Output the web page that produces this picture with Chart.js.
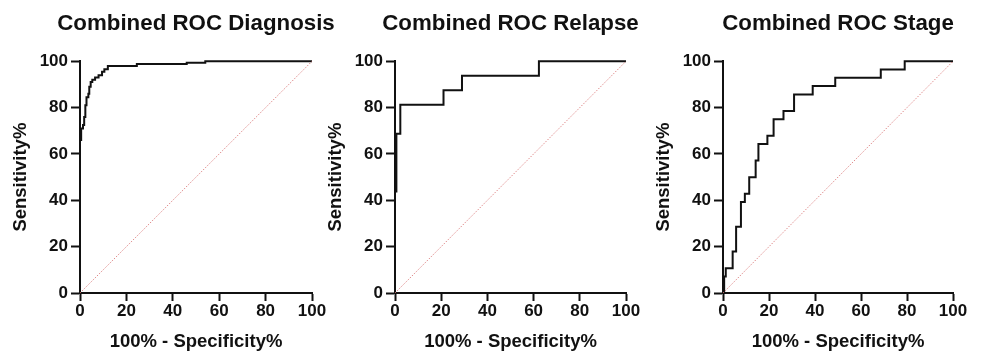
<!DOCTYPE html>
<html>
<head>
<meta charset="utf-8">
<script src="https://cdn.jsdelivr.net/npm/chart.js@4"></script>
<style>
  html, body { margin: 0; padding: 0; background: #fff; overflow: hidden; }
  #wrap { position: relative; width: 981px; height: 354px; overflow: hidden; }
  canvas { position: absolute; top: 0; }
</style>
</head>
<body>
<div id="wrap">
  <canvas id="c1" width="400" height="354" style="left:0px"></canvas>
  <canvas id="c2" width="400" height="354" style="left:315px"></canvas>
  <canvas id="c3" width="400" height="354" style="left:643px"></canvas>
</div>
<script>
// ---- data ----
const titles = ['Combined ROC Diagnosis', 'Combined ROC Relapse', 'Combined ROC Stage'];
const xAxisLabel = '100% - Specificity%';
const yAxisLabel = 'Sensitivity%';
const tickStep = 20;

const diagFpr = [0,0,0.5,0.5,1.3,1.3,1.8,1.8,2.3,2.3,2.8,2.8,3.6,3.6,4.0,4.0,4.6,4.6,5.3,5.3,6.5,6.5,8.0,8.0,9.5,9.5,10.5,10.5,12.0,12.0,24.5,24.5,46,46,54,54,100];
const diagTpr = [0,66,66,71,71,72.5,72.5,76,76,81,81,84.5,84.5,86,86,89,89,91,91,92,92,93,93,94,94,95.5,95.5,96.5,96.5,98,98,98.8,98.8,99.4,99.4,100,100];

const relFpr = [0,0,0.6,0.6,2.3,2.3,21,21,29,29,62.3,62.3,100];
const relTpr = [0,43.75,43.75,68.75,68.75,81.25,81.25,87.5,87.5,93.75,93.75,100,100];

const stageFpr = [0.5,0.5,1.2,1.2,4.2,4.2,5.7,5.7,7.8,7.8,9.5,9.5,11.4,11.4,14.2,14.2,15.4,15.4,19.3,19.3,22.0,22.0,26.3,26.3,30.9,30.9,39,39,48.8,48.8,68.6,68.6,79,79,100];
const stageTpr = [0,7.14,7.14,10.71,10.71,17.86,17.86,28.57,28.57,39.29,39.29,42.86,42.86,50,50,57.14,57.14,64.29,64.29,67.86,67.86,75,75,78.57,78.57,85.71,85.71,89.29,89.29,92.86,92.86,96.43,96.43,100,100];

const refX = [0, 100];
const refY = [0, 100];

// ---- chart builder ----
const FONT = '"Liberation Sans", Arial, Helvetica, sans-serif';
const INK = '#111';

function pts(xs, ys) { return xs.map((x, i) => ({x: x, y: ys[i]})); }

function makeChart(id, title, fpr, tpr, rightPad) {
  new Chart(document.getElementById(id), {
    type: 'scatter',
    data: {
      datasets: [
        {
          data: pts(refX, refY),
          showLine: true,
          borderColor: 'rgba(215,110,110,0.8)',
          borderWidth: 1,
          borderDash: [1.5, 1.5],
          pointRadius: 0,
          yAxisID: 'y',
          clip: false
        },
        {
          data: pts(fpr, tpr),
          showLine: true,
          borderColor: INK,
          borderWidth: 2,
          pointRadius: 0,
          tension: 0,
          yAxisID: 'y',
          clip: false
        }
      ]
    },
    options: {
      responsive: false,
      devicePixelRatio: 1,
      animation: false,
      layout: { padding: { left: 0, right: rightPad, top: 0, bottom: 0 } },
      plugins: {
        legend: { display: false },
        tooltip: { enabled: false },
        title: {
          display: true,
          text: title,
          color: INK,
          font: { family: FONT, size: 22.3, weight: 'bold' },
          padding: { top: 10.5, bottom: 24 }
        }
      },
      scales: {
        x: {
          type: 'linear', min: 0, max: 100,
          ticks: { stepSize: tickStep, color: INK, padding: 0.5, font: { family: FONT, size: 17, weight: 'bold' } },
          grid: { drawOnChartArea: false, drawTicks: true, tickLength: 8, tickWidth: 2, tickColor: INK },
          border: { display: true, color: INK, width: 2 },
          title: { display: true, text: xAxisLabel, color: INK, padding: { top: 0, bottom: 1 },
                   font: { family: FONT, size: 18.5, weight: 'bold' } },
          afterFit: s => { s.height = 61; }
        },
        y: {
          type: 'linear', position: 'left', min: 0, max: 100,
          ticks: { stepSize: tickStep, color: INK, padding: 3, font: { family: FONT, size: 17, weight: 'bold' } },
          grid: { drawOnChartArea: false, drawTicks: true, tickLength: 9, tickWidth: 2, tickColor: INK },
          border: { display: true, color: INK, width: 2 },
          title: { display: true, text: yAxisLabel, color: INK, padding: { top: 10, bottom: 0 },
                   font: { family: FONT, size: 18.5, weight: 'bold' } },
          afterFit: s => { s.width = 80; }
        },
        yR: {
          type: 'linear', position: 'right', display: true,
          ticks: { display: false },
          grid: { display: false },
          border: { display: false },
          afterFit: s => { s.width = 80; }
        }
      }
    }
  });
}

makeChart('c1', titles[0], diagFpr, diagTpr, 8);
makeChart('c2', titles[1], relFpr, relTpr, 9);
makeChart('c3', titles[2], stageFpr, stageTpr, 10);
</script>
</body>
</html>
